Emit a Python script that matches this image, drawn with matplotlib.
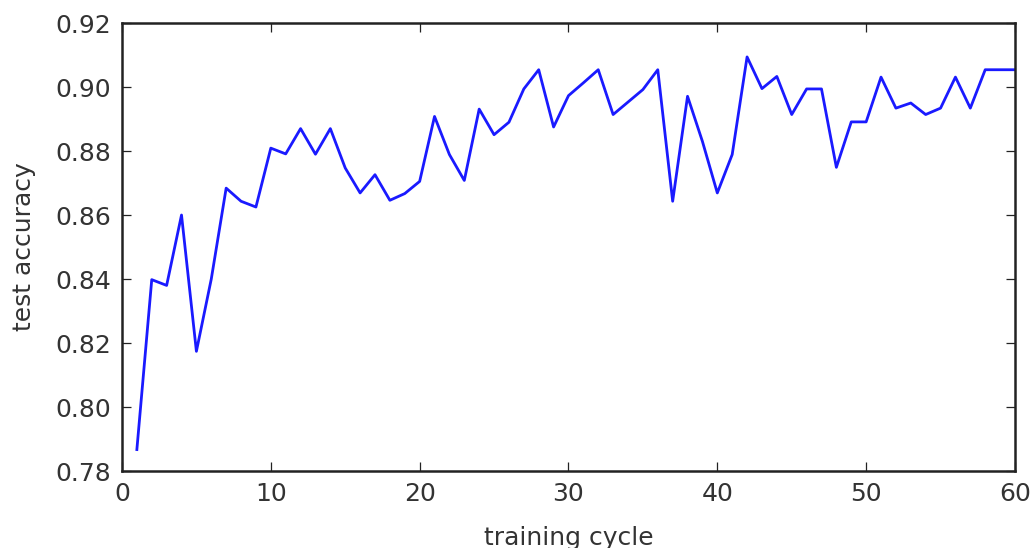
import matplotlib
matplotlib.use("Agg")
import matplotlib.pyplot as plt

# test accuracy per training cycle
cycles = list(range(1, 61))
accuracy = [
    0.7867, 0.8398, 0.8380, 0.8600, 0.8174, 0.8400, 0.8684, 0.8643, 0.8625, 0.8809,
    0.8791, 0.8870, 0.8790, 0.8870, 0.8747, 0.8669, 0.8726, 0.8646, 0.8667, 0.8705,
    0.8908, 0.8789, 0.8708, 0.8931, 0.8851, 0.8890, 0.8994, 0.9054, 0.8875, 0.8973,
    0.9013, 0.9054, 0.8914, 0.8953, 0.8992, 0.9054, 0.8643, 0.8971, 0.8830, 0.8669,
    0.8789, 0.9094, 0.8995, 0.9033, 0.8914, 0.8994, 0.8994, 0.8749, 0.8891, 0.8891,
    0.9031, 0.8934, 0.8950, 0.8914, 0.8934, 0.9031, 0.8934, 0.9054, 0.9054, 0.9054,
]
x_ticks = [0, 10, 20, 30, 40, 50, 60]
y_ticks = [0.78, 0.80, 0.82, 0.84, 0.86, 0.88, 0.90, 0.92]

fig = plt.figure(figsize=(10.32, 5.48), dpi=100)
ax = fig.add_axes([0.1182, 0.1405, 0.8653, 0.8175])
ax.plot(cycles, accuracy, color="#1a1aff", lw=2.0)

ax.set_xlim(0, 60)
ax.set_ylim(0.78, 0.92)
ax.set_xticks(x_ticks)
ax.set_yticks(y_ticks)
ax.set_yticklabels(["%.2f" % v for v in y_ticks])
ax.tick_params(direction="in", top=True, right=True, length=6.5, width=0.9,
               labelsize=18, pad=8, colors="#222222", labelcolor="#333333")
for s in ax.spines.values():
    s.set_linewidth(1.8)
    s.set_color("#222222")

ax.set_xlabel("training cycle", fontsize=18, color="#333333", labelpad=14)
ax.set_ylabel("test accuracy", fontsize=18, color="#333333", labelpad=14)

fig.savefig("out.png", dpi=100)
